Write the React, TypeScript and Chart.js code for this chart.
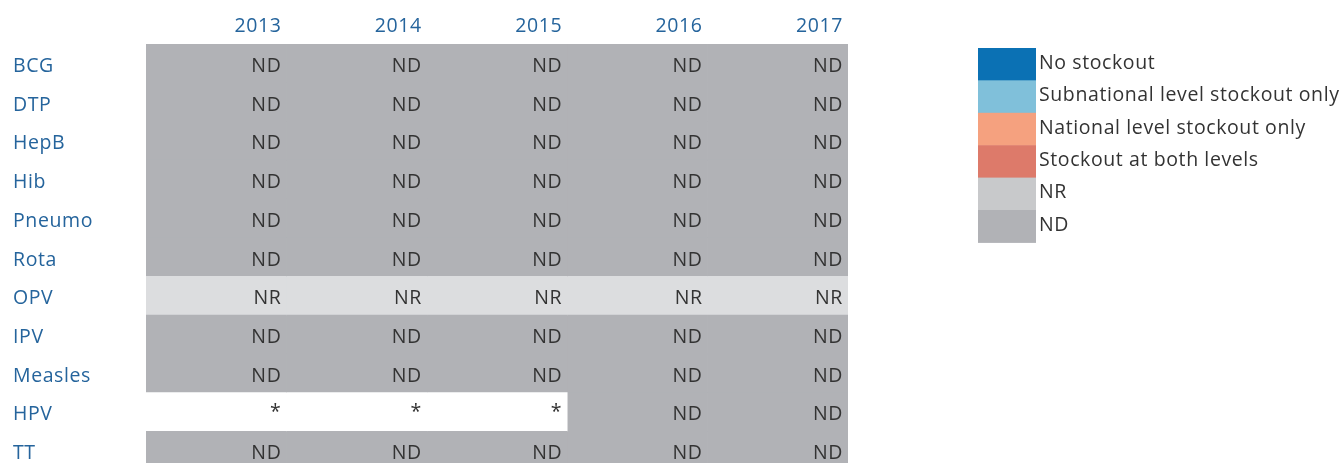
import React, { useEffect, useRef } from 'react';
import { Chart, registerables } from 'chart.js';

Chart.register(...registerables);

const vaccines = ['BCG', 'DTP', 'HepB', 'Hib', 'Pneumo', 'Rota', 'OPV', 'IPV', 'Measles', 'HPV', 'TT'];
const years = ['2013', '2014', '2015', '2016', '2017'];

const status2013 = ['ND', 'ND', 'ND', 'ND', 'ND', 'ND', 'NR', 'ND', 'ND', '*', 'ND'];
const status2014 = ['ND', 'ND', 'ND', 'ND', 'ND', 'ND', 'NR', 'ND', 'ND', '*', 'ND'];
const status2015 = ['ND', 'ND', 'ND', 'ND', 'ND', 'ND', 'NR', 'ND', 'ND', '*', 'ND'];
const status2016 = ['ND', 'ND', 'ND', 'ND', 'ND', 'ND', 'NR', 'ND', 'ND', 'ND', 'ND'];
const status2017 = ['ND', 'ND', 'ND', 'ND', 'ND', 'ND', 'NR', 'ND', 'ND', 'ND', 'ND'];
const statusByYear = [status2013, status2014, status2015, status2016, status2017];

const legendLabels = [
  'No stockout',
  'Subnational level stockout only',
  'National level stockout only',
  'Stockout at both levels',
  'NR',
  'ND',
];
const legendColors = ['#0b71b4', '#80c0da', '#f5a17f', '#dd7a6a', '#c8c9cb', '#b1b2b6'];

const cellColors: Record<string, string> = {
  ND: '#b1b2b6',
  NR: '#dcdddf',
  '*': '#ffffff',
};

const FONT = '"Open Sans", Lato, sans-serif';
const BLUE = '#25649c';
const DARK = '#333333';
const SPACING = '0.6px';

const spacingPlugin = {
  id: 'letterSpacing',
  beforeDraw(chart: any) {
    chart.ctx.letterSpacing = SPACING;
  },
};

const cellTextPlugin = {
  id: 'cellText',
  afterDatasetsDraw(chart: any) {
    const ctx = chart.ctx;
    ctx.save();
    ctx.letterSpacing = SPACING;
    ctx.font = `19.5px ${FONT}`;
    ctx.fillStyle = DARK;
    ctx.textAlign = 'right';
    ctx.textBaseline = 'middle';
    chart.data.datasets.forEach((ds: any, di: number) => {
      const meta = chart.getDatasetMeta(di);
      meta.data.forEach((el: any, i: number) => {
        const txt = statusByYear[di][i];
        const dy = txt === '*' ? 1 : 3;
        ctx.fillText(txt, el.x - 5, el.y + dy);
      });
    });
    ctx.restore();
  },
};

const legendPlugin = {
  id: 'sideLegend',
  afterDraw(chart: any) {
    const ctx = chart.ctx;
    const x0 = 978;
    const y0 = 48;
    const w = 58;
    const h = 32.4;
    ctx.save();
    ctx.letterSpacing = SPACING;
    ctx.font = `19.5px ${FONT}`;
    ctx.textAlign = 'left';
    ctx.textBaseline = 'middle';
    legendLabels.forEach((lab, k) => {
      ctx.fillStyle = legendColors[k];
      ctx.fillRect(x0, y0 + k * h, w, h + 0.5);
      ctx.fillStyle = DARK;
      ctx.fillText(lab, x0 + w + 3, y0 + k * h + h / 2 - 1);
    });
    ctx.restore();
  },
};

export default function App() {
  const ref = useRef<HTMLCanvasElement | null>(null);
  useEffect(() => {
    if (!ref.current) return;
    const datasets = years.map((yr, j) => ({
      label: yr,
      data: vaccines.map(() => [j, j + 1]),
      backgroundColor: vaccines.map((_, i) => cellColors[statusByYear[j][i]]),
      borderWidth: 0,
      barPercentage: 1,
      categoryPercentage: 1,
      grouped: false,
    }));
    const chart = new Chart(ref.current, {
      type: 'bar',
      data: { labels: vaccines, datasets: datasets as any },
      options: {
        indexAxis: 'y',
        animation: false,
        responsive: false,
        maintainAspectRatio: false,
        layout: { padding: { left: 13, right: 495, top: 0, bottom: 2 } },
        plugins: { legend: { display: false }, tooltip: { enabled: false } },
        scales: {
          x: {
            type: 'linear',
            position: 'top',
            min: 0,
            max: 5,
            grid: { display: false, drawTicks: false },
            border: { display: false },
            ticks: {
              stepSize: 1,
              align: 'end',
              labelOffset: -5,
              padding: 6,
              color: BLUE,
              font: { family: FONT, size: 19.5 },
              callback: (v: any) => (v >= 1 ? years[v - 1] : ''),
            },
            afterFit: (s: any) => {
              s.height = 44;
              s.paddingLeft = 0;
              s.paddingRight = 0;
            },
          },
          y: {
            type: 'category',
            grid: { display: false, drawTicks: false },
            border: { display: false },
            ticks: {
              crossAlign: 'far',
              labelOffset: 3,
              color: BLUE,
              font: { family: FONT, size: 19.5 },
            },
            afterFit: (s: any) => {
              s.width = 133;
              s.paddingTop = 0;
              s.paddingBottom = 0;
            },
          },
        },
      },
      plugins: [spacingPlugin, cellTextPlugin, legendPlugin],
    });
    return () => chart.destroy();
  }, []);
  return (
    <div style={{ position: 'fixed', left: 0, top: 0, width: 1343, height: 472, background: '#fff' }}>
      <canvas ref={ref} width={1343} height={472} style={{ display: 'block' }} />
    </div>
  );
}
